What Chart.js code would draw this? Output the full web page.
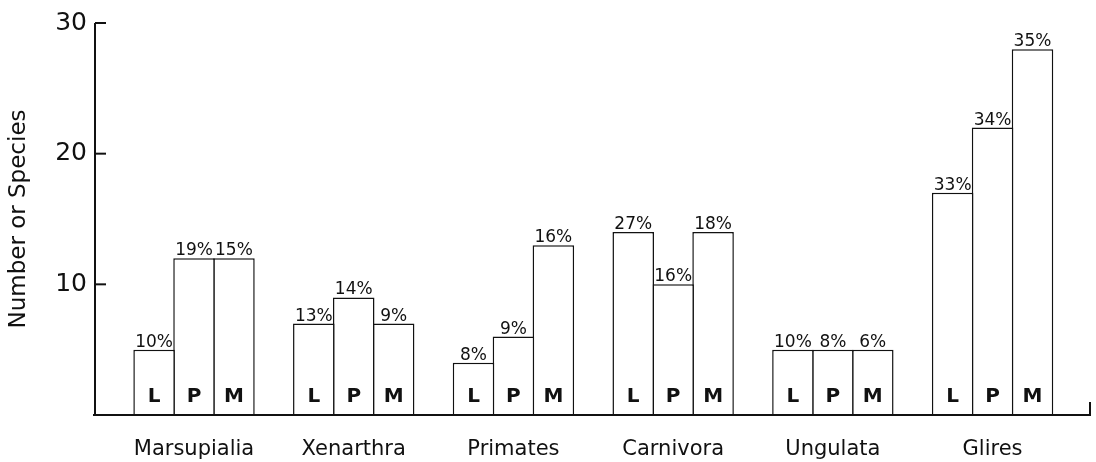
<!DOCTYPE html>
<html>
<head>
<meta charset="utf-8">
<script src="https://cdn.jsdelivr.net/npm/chart.js@4"></script>
<style>
  body { margin: 0; background: #fff; }
  canvas { display: block; }
</style>
</head>
<body>
<canvas id="chart" width="1096" height="462"></canvas>
<script>
// 분류군 / 시리즈
const categories = ["Marsupialia", "Xenarthra", "Primates", "Carnivora", "Ungulata", "Glires"];
const seriesNames = ["L", "P", "M"];

// 종 수
const valuesL = [5, 7, 4, 14, 5, 17];
const valuesP = [12, 9, 6, 10, 5, 22];
const valuesM = [12, 7, 13, 14, 5, 28];

// 막대 위 퍼센트
const pctL = [10, 13, 8, 27, 10, 33];
const pctP = [19, 14, 9, 16, 8, 34];
const pctM = [15, 9, 16, 18, 6, 35];

const yTicks = [10, 20, 30];

const FONT = '"DejaVu Sans", sans-serif';
const percents = [pctL, pctP, pctM];

function toPoints(values) {
  return values.map((v, i) => ({ x: i, y: v }));
}

// 막대끼리 테두리가 한 줄로 겹치도록 살짝 넓게
const datasets = [valuesL, valuesP, valuesM].map((vals, k) => ({
  label: seriesNames[k],
  data: toPoints(vals),
  backgroundColor: "#ffffff",
  borderColor: "#111111",
  borderWidth: 1.5,
  categoryPercentage: 0.75,
  barPercentage: 1.04,
}));

// 축선, 눈금, 막대 라벨 그리기
const decorPlugin = {
  id: "decor",
  afterDatasetsDraw(chart) {
    const ctx = chart.ctx;
    const area = chart.chartArea;
    const yScale = chart.scales.y;
    ctx.save();

    // 막대 라벨 (퍼센트 + 문자)
    chart.data.datasets.forEach((ds, k) => {
      const meta = chart.getDatasetMeta(k);
      meta.data.forEach((bar, i) => {
        ctx.fillStyle = "#111";
        ctx.textAlign = "center";
        ctx.textBaseline = "alphabetic";
        ctx.font = "17px " + FONT;
        ctx.fillText(percents[k][i] + "%", bar.x, bar.y - 3);
        ctx.font = "bold 20px " + FONT;
        ctx.fillText(seriesNames[k], bar.x, area.bottom - 13);
      });
    });

    ctx.strokeStyle = "#111";
    ctx.lineWidth = 2;
    // y축
    const topY = yScale.getPixelForValue(30);
    ctx.beginPath();
    ctx.moveTo(area.left, topY);
    ctx.lineTo(area.left, area.bottom);
    ctx.stroke();
    yTicks.forEach((t) => {
      const y = yScale.getPixelForValue(t);
      ctx.beginPath();
      ctx.moveTo(area.left, y);
      ctx.lineTo(area.left + 11, y);
      ctx.stroke();
    });
    // x축
    ctx.beginPath();
    ctx.moveTo(area.left - 2, area.bottom);
    ctx.lineTo(area.right, area.bottom);
    ctx.lineTo(area.right, area.bottom - 13);
    ctx.stroke();
    ctx.restore();
  },
};

new Chart(document.getElementById("chart"), {
  type: "bar",
  data: { datasets },
  options: {
    responsive: false,
    animation: false,
    layout: { padding: { top: 19, right: 6, left: 0, bottom: 0 } },
    plugins: {
      legend: { display: false },
      tooltip: { enabled: false },
    },
    scales: {
      x: {
        type: "linear",
        offset: false,
        min: -0.62,
        max: 5.61,
        afterFit: (scale) => { scale.height = 47; },
        afterBuildTicks: (scale) => {
          scale.ticks = categories.map((c, i) => ({ value: i }));
        },
        grid: { display: false, drawTicks: false, offset: false },
        border: { display: false },
        ticks: {
          color: "#111",
          font: { family: FONT, size: 21 },
          padding: 22,
          maxRotation: 0,
          callback: (v) => categories[v] ?? "",
        },
      },
      y: {
        min: 0,
        max: 30,
        afterFit: (scale) => { scale.width = 95; },
        afterBuildTicks: (scale) => {
          scale.ticks = yTicks.map((v) => ({ value: v }));
        },
        grid: { display: false, drawTicks: false },
        border: { display: false },
        ticks: {
          color: "#111",
          font: { family: FONT, size: 25 },
          padding: 8,
        },
        title: {
          display: true,
          text: "Number or Species",
          color: "#111",
          font: { family: FONT, size: 23 },
          padding: { top: 5, bottom: 0 },
        },
      },
    },
  },
  plugins: [decorPlugin],
});
</script>
</body>
</html>
